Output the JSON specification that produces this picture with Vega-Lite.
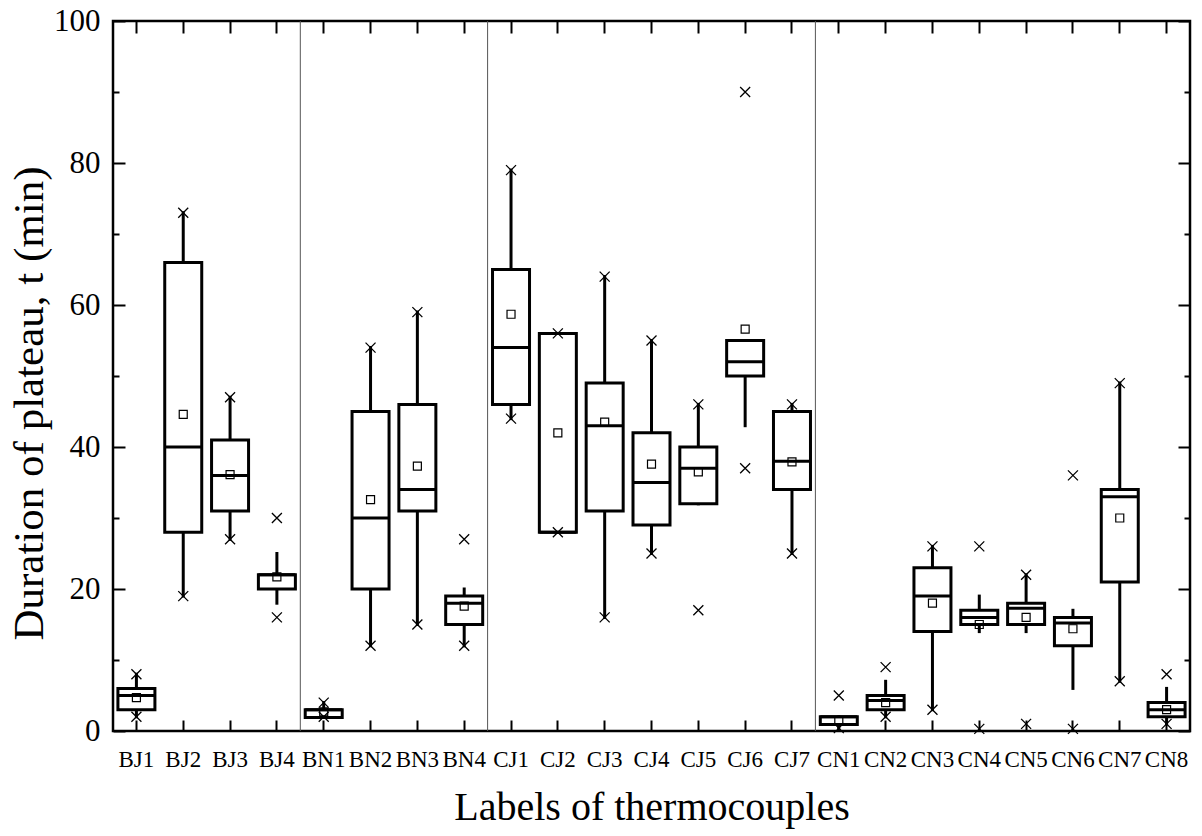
{
  "$schema": "https://vega.github.io/schema/vega-lite/v6.json",
  "width": 1077,
  "height": 710,
  "autosize": {"type": "none"},
  "padding": {"left": 113, "top": 21, "right": 12, "bottom": 105},
  "background": "white",
  "config": {
    "font": "Liberation Serif",
    "view": {"stroke": "black", "strokeWidth": 2.5},
    "axis": {
      "labelFont": "Liberation Serif",
      "titleFont": "Liberation Serif",
      "labelColor": "black",
      "titleColor": "black",
      "tickColor": "black",
      "tickWidth": 2,
      "domain": false,
      "grid": false,
      "titleFontWeight": "normal"
    },
    "axisLeft": {"titleFont": "Liberation Serif", "labelFont": "Liberation Serif"}
  },
  "datasets": {
    "boxes": [
      {"c": "BJ1", "lo": 2, "q1": 3, "med": 5, "q3": 6, "hi": 8, "mean": 4.7, "mn": 2, "mx": 8},
      {"c": "BJ2", "lo": 19, "q1": 28, "med": 40, "q3": 66, "hi": 73, "mean": 44.6, "mn": 19, "mx": 73},
      {"c": "BJ3", "lo": 27, "q1": 31, "med": 36, "q3": 41, "hi": 47, "mean": 36.1, "mn": 27, "mx": 47},
      {"c": "BJ4", "lo": 18, "q1": 20, "med": 22, "q3": 22, "hi": 25, "mean": 21.7, "mn": 16, "mx": 30},
      {"c": "BN1", "lo": 2, "q1": 1.9, "med": 3, "q3": 3, "hi": 4, "mean": 2.7, "mn": 2, "mx": 4},
      {"c": "BN2", "lo": 12, "q1": 20, "med": 30, "q3": 45, "hi": 54, "mean": 32.6, "mn": 12, "mx": 54},
      {"c": "BN3", "lo": 15, "q1": 31, "med": 34, "q3": 46, "hi": 59, "mean": 37.3, "mn": 15, "mx": 59},
      {"c": "BN4", "lo": 12, "q1": 15, "med": 18, "q3": 19, "hi": 20, "mean": 17.6, "mn": 12, "mx": 27},
      {"c": "CJ1", "lo": 44, "q1": 46, "med": 54, "q3": 65, "hi": 79, "mean": 58.7, "mn": 44, "mx": 79},
      {"c": "CJ2", "lo": 28, "q1": 28, "med": 28, "q3": 56, "hi": 56, "mean": 42, "mn": 28, "mx": 56},
      {"c": "CJ3", "lo": 16, "q1": 31, "med": 43, "q3": 49, "hi": 64, "mean": 43.5, "mn": 16, "mx": 64},
      {"c": "CJ4", "lo": 25, "q1": 29, "med": 35, "q3": 42, "hi": 55, "mean": 37.6, "mn": 25, "mx": 55},
      {"c": "CJ5", "lo": 32, "q1": 32, "med": 37, "q3": 40, "hi": 46, "mean": 36.5, "mn": 17, "mx": 46},
      {"c": "CJ6", "lo": 43, "q1": 50, "med": 52, "q3": 55, "hi": 55, "mean": 56.6, "mn": 37, "mx": 90},
      {"c": "CJ7", "lo": 25, "q1": 34, "med": 38, "q3": 45, "hi": 46, "mean": 37.9, "mn": 25, "mx": 46},
      {"c": "CN1", "lo": 0.4, "q1": 0.9, "med": 2, "q3": 2, "hi": 2, "mean": 1.4, "mn": 0.4, "mx": 5},
      {"c": "CN2", "lo": 2, "q1": 3, "med": 4.3, "q3": 5, "hi": 7, "mean": 4.0, "mn": 2, "mx": 9},
      {"c": "CN3", "lo": 3, "q1": 14, "med": 19, "q3": 23, "hi": 26, "mean": 18, "mn": 3, "mx": 26},
      {"c": "CN4", "lo": 14, "q1": 15, "med": 16, "q3": 17, "hi": 19, "mean": 15, "mn": 0.3, "mx": 26},
      {"c": "CN5", "lo": 14, "q1": 15, "med": 17.3, "q3": 18, "hi": 22, "mean": 16, "mn": 1, "mx": 22},
      {"c": "CN6", "lo": 6, "q1": 12, "med": 15.2, "q3": 16, "hi": 17, "mean": 14.4, "mn": 0.3, "mx": 36},
      {"c": "CN7", "lo": 7, "q1": 21, "med": 33, "q3": 34, "hi": 49, "mean": 30, "mn": 7, "mx": 49},
      {"c": "CN8", "lo": 1, "q1": 2, "med": 3, "q3": 4, "hi": 6, "mean": 3, "mn": 1, "mx": 8}
    ],
    "groups": [{"c": "BN1"}, {"c": "CJ1"}, {"c": "CN1"}]
  },
  "data": {"name": "boxes"},
  "resolve": {"axis": {"x": "independent", "y": "independent"}},
  "layer": [
    {
      "mark": {"type": "rule", "color": "black", "strokeWidth": 3, "strokeCap": "square"},
      "encoding": {
        "x": {"field": "c", "type": "nominal",
          "scale": {"domain": ["BJ1","BJ2","BJ3","BJ4","BN1","BN2","BN3","BN4","CJ1","CJ2","CJ3","CJ4","CJ5","CJ6","CJ7","CN1","CN2","CN3","CN4","CN5","CN6","CN7","CN8"], "paddingInner": 0, "paddingOuter": 0},
          "axis": {"orient": "bottom", "title": "Labels of thermocouples", "labelFont": "Liberation Serif", "labelFontSize": 23, "labelAngle": 0, "tickSize": -11, "labelPadding": 28, "titleFont": "Liberation Serif", "titleFontSize": 40, "titleBaseline": "alphabetic", "titleY": 88}},
        "y": {"field": "lo", "type": "quantitative", "scale": {"domain": [0, 100], "nice": false},
          "axis": {"orient": "left", "title": null, "values": [0, 20, 40, 60, 80, 100], "labelFont": "Liberation Serif", "labelFontSize": 31, "tickSize": -12, "labelPadding": 25}},
        "y2": {"field": "hi"}
      }
    },
    {
      "mark": {"type": "bar", "fill": "white", "stroke": "black", "strokeWidth": 3, "size": 37},
      "encoding": {
        "x": {"field": "c", "type": "nominal",
          "axis": {"orient": "top", "title": null, "labels": false, "tickSize": -12}},
        "y": {"field": "q1", "type": "quantitative",
          "axis": {"orient": "left", "title": "Duration of plateau, t (min)", "labels": false, "values": [10, 30, 50, 70, 90], "tickSize": -6, "titleFont": "Liberation Serif", "titleFontSize": 43, "titleFontWeight": "normal", "titleBaseline": "alphabetic", "titleX": -71, "titleY": 382}},
        "y2": {"field": "q3"}
      }
    },
    {
      "mark": {"type": "tick", "color": "black", "opacity": 1, "thickness": 3, "size": 37},
      "encoding": {
        "x": {"field": "c", "type": "nominal", "axis": null},
        "y": {"field": "med", "type": "quantitative",
          "axis": {"orient": "right", "title": null, "labels": false, "values": [0, 20, 40, 60, 80, 100], "tickSize": -12}}
      }
    },
    {
      "mark": {"type": "point", "shape": "square", "size": 64, "filled": false, "stroke": "black", "strokeWidth": 1.2, "opacity": 1},
      "encoding": {
        "x": {"field": "c", "type": "nominal", "axis": null},
        "y": {"field": "mean", "type": "quantitative",
          "axis": {"orient": "right", "title": null, "labels": false, "values": [10, 30, 50, 70, 90], "tickSize": -6}}
      }
    },
    {
      "mark": {"type": "point", "shape": "M-1,-1L1,1M1,-1L-1,1", "size": 100, "filled": false, "stroke": "black", "strokeWidth": 1.3, "opacity": 1},
      "encoding": {
        "x": {"field": "c", "type": "nominal", "axis": null},
        "y": {"field": "mn", "type": "quantitative", "axis": null}
      }
    },
    {
      "mark": {"type": "point", "shape": "M-1,-1L1,1M1,-1L-1,1", "size": 100, "filled": false, "stroke": "black", "strokeWidth": 1.3, "opacity": 1},
      "encoding": {
        "x": {"field": "c", "type": "nominal", "axis": null},
        "y": {"field": "mx", "type": "quantitative", "axis": null}
      }
    },
    {
      "data": {"name": "groups"},
      "mark": {"type": "rule", "color": "#555555", "strokeWidth": 1},
      "encoding": {
        "x": {"field": "c", "type": "nominal", "bandPosition": 0, "axis": null}
      }
    }
  ]
}
